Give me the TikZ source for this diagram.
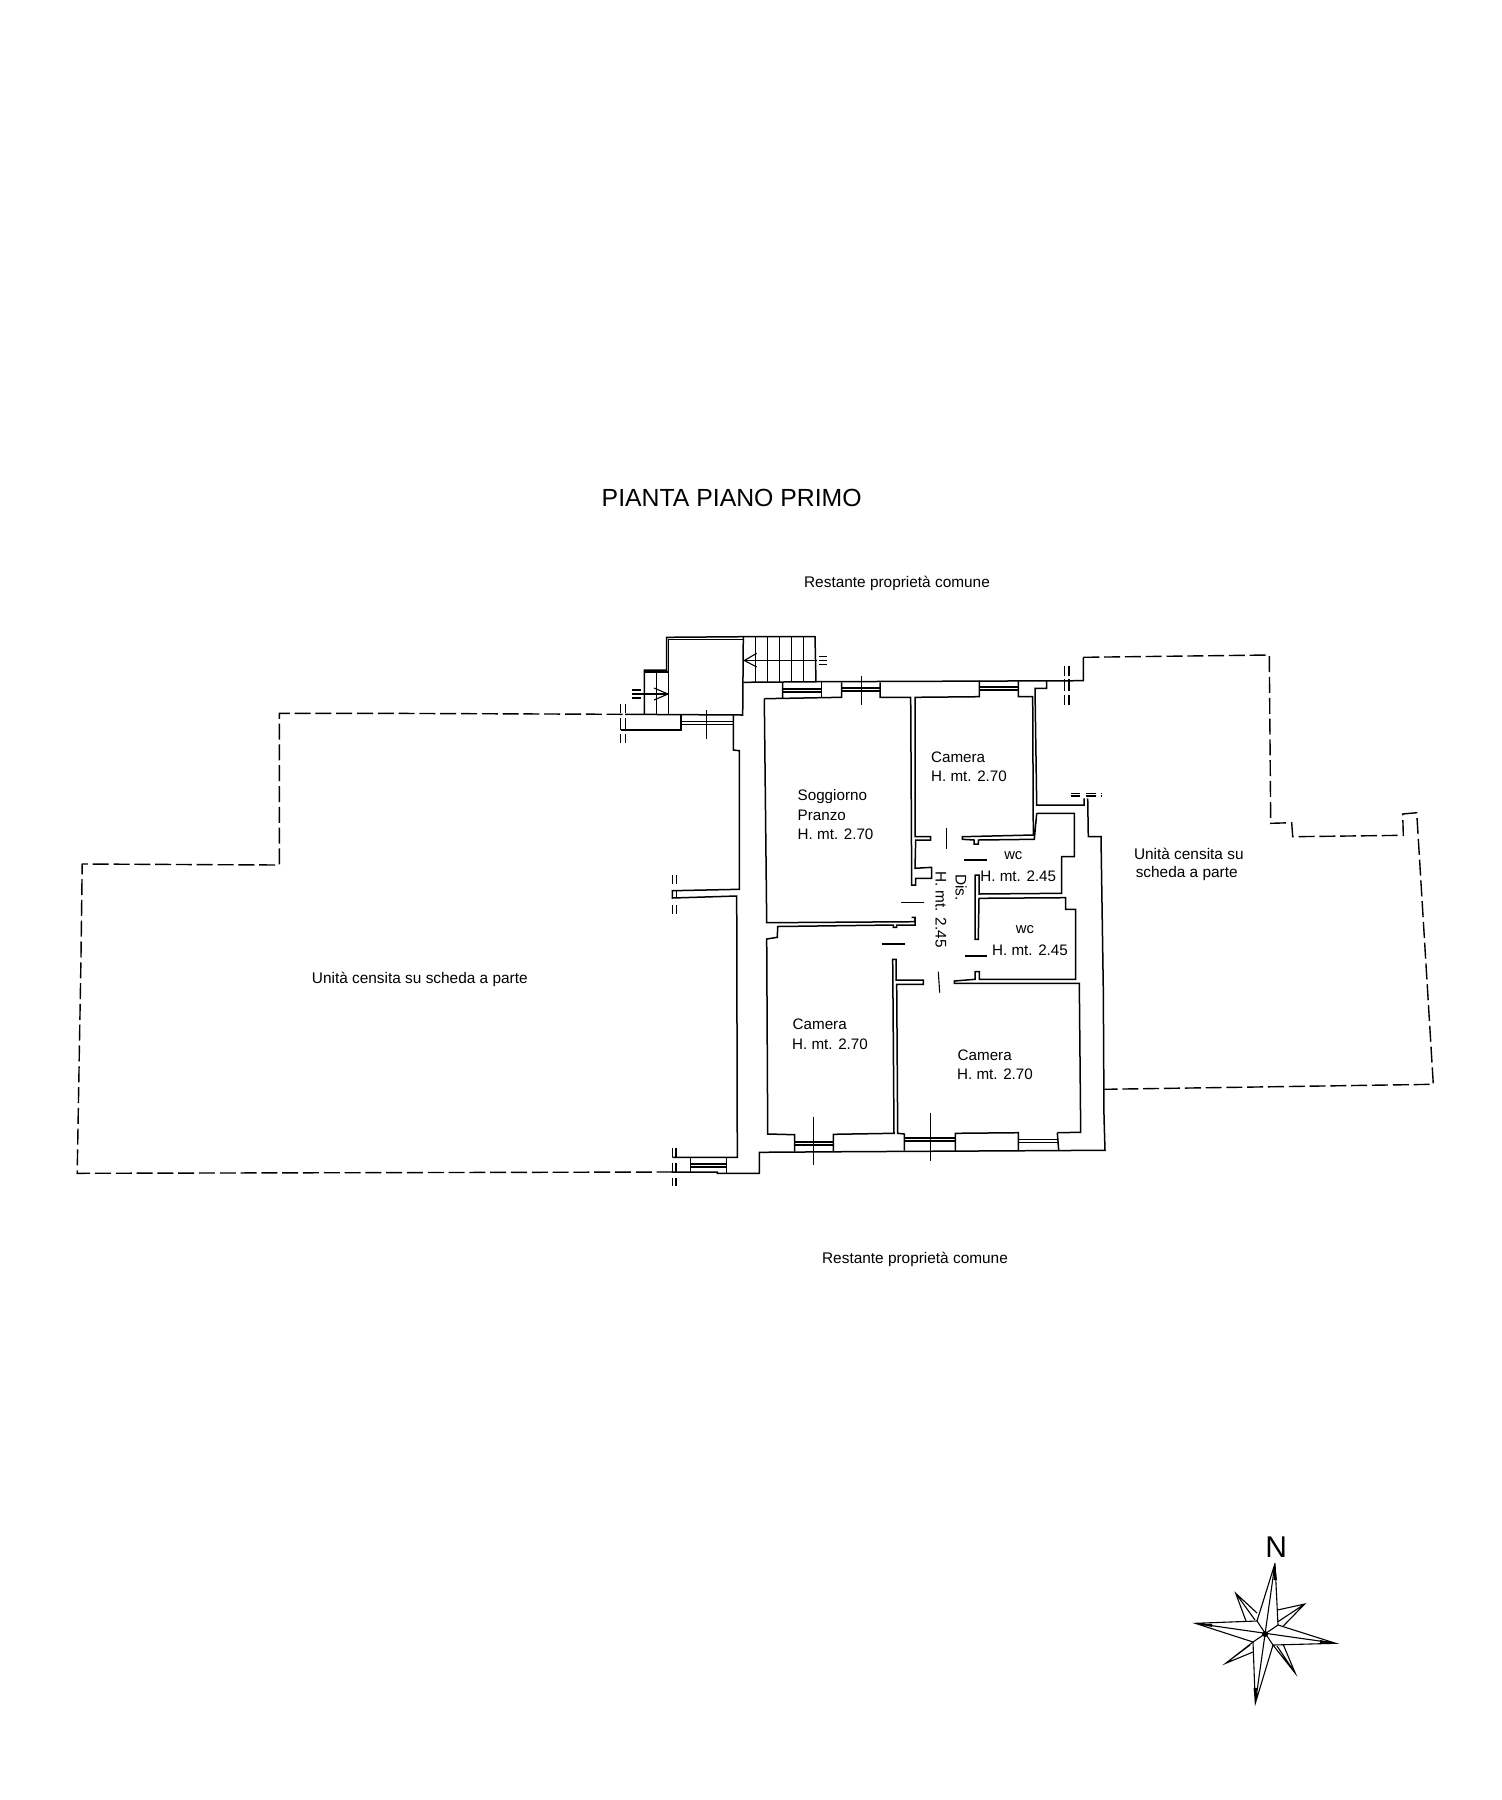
\documentclass[tikz,border=0pt]{standalone}
\usepackage{fontspec}
\setmainfont{Liberation Sans}
\tikzstyle{wall}=[draw, line width=0.75pt, line join=miter]
\tikzstyle{fine}=[draw, line width=0.55pt]
\tikzstyle{boundary}=[draw, line width=0.7pt, dash pattern=on 8pt off 2.4pt]
\tikzstyle{roomtxt}=[inner sep=0pt, anchor=west, font=\fontsize{7.6}{9}\selectfont]
\tikzstyle{areatxt}=[inner sep=0pt, font=\fontsize{7.7}{9}\selectfont]
\tikzstyle{smalltxt}=[inner sep=0pt, font=\fontsize{7.4}{8}\selectfont]

\begin{document}
\begin{tikzpicture}[x=0.5pt, y=-0.5pt]
\useasboundingbox (0,0) rectangle (1502,1800);

\node (title) at (731.7,497.5) [inner sep=0pt, font=\fontsize{12.4}{14}\selectfont] {PIANTA PIANO PRIMO};
\node (north) at (897,583) [areatxt] {Restante proprietà comune};
\node (south) at (915,1259) [areatxt] {Restante proprietà comune};
\node (westunit) at (419.8,979.5) [areatxt] {Unità censita su scheda a parte};
\node (eastunit1) at (1188.8,854) [areatxt] {Unità censita su};
\node (eastunit2) at (1186.7,874) [areatxt] {scheda a parte};

\node (lounge1) at (797.3,797) [roomtxt] {Soggiorno};
\node (lounge2) at (797.3,815.5) [roomtxt] {Pranzo};
\node (lounge3) at (797.3,834.5) [roomtxt] {H. mt. 2.70};
\node (bedne1) at (930.7,757) [roomtxt] {Camera};
\node (bedne2) at (930.7,776.5) [roomtxt] {H. mt. 2.70};
\node (bedsw1) at (792.3,1023.8) [roomtxt] {Camera};
\node (bedsw2) at (791.7,1043.8) [roomtxt] {H. mt. 2.70};
\node (bedse1) at (957.3,1054.8) [roomtxt] {Camera};
\node (bedse2) at (956.7,1074.5) [roomtxt] {H. mt. 2.70};
\node (wca1) at (1013.3,856) [smalltxt] {wc};
\node (wca2) at (980,876) [roomtxt] {H. mt. 2.45};
\node (wcb1) at (1025,930) [smalltxt] {wc};
\node (wcb2) at (991.7,949.8) [roomtxt] {H. mt. 2.45};
\node (dis1) at (961,887.7) [areatxt, rotate=-90] {Dis.};
\node (dis2) at (941,909.5) [areatxt, rotate=-90] {H. mt. 2.45};

% outdoor boundaries
\path [boundary] (622.6,714.3) -- (373.8,713.3) -- (279.3,713.3) -- (279.3,865) -- (82.2,864) -- (81,956.7) -- (77.2,1173.3) -- (672,1172);
\path [boundary] (1083.3,657.3) -- (1269.3,655) -- (1270.7,823.3) -- (1291.7,822.7) -- (1292.7,836.7) -- (1403.3,835.3) -- (1402.7,814) -- (1416.7,812.7) -- (1433.3,1084.3) -- (1104.3,1089.3);

% outer wall
\path [wall] (625,714.3) -- (742.7,715) -- (743.3,636.7);
\path [wall] (620.7,730) -- (681,730) -- (681,715);
\path [wall] (733.3,715) -- (733.3,750) -- (739.3,750.7) -- (739.3,889.3) -- (672.3,890.7) -- (672.3,898) -- (736.7,896) -- (737.3,1157.3) -- (672.3,1157.3);
\path [wall] (671.7,1172) -- (717.3,1172) -- (717.3,1173.3) -- (759.3,1173.3) -- (759.3,1152.3) -- (846.7,1151.7) -- (1105,1150.3) -- (1104,1116.7) -- (1103.3,990) -- (1101,836.7) -- (1088.3,836.7) -- (1087.7,798.3);
\path [wall] (743.3,682.3) -- (821.7,681.7) -- (1083.3,680.7) -- (1083.3,657.3);
\path [wall] (1036.7,813.3) -- (1074.3,813.3) -- (1074.3,856.7) -- (1061.7,856.7) -- (1061.7,893.3) -- (979,894) -- (979,875) -- (975,875) -- (975,939.3) -- (978.3,939.3) -- (979,898.3) -- (1065.7,897.7) -- (1065.7,909.3) -- (1075.7,909.3) -- (1075.7,979.3) -- (979.3,979.3) -- (979.3,971.7) -- (975,971.7) -- (975,979.3) -- (954.3,981) -- (954.3,983.3) -- (1079.3,983.3) -- (1080.7,1132.3) -- (1057.3,1132.7);
\path [wall] (1046.7,680.7) -- (1046.7,688.3) -- (1035,688.3) -- (1036.7,805) -- (1084,805) -- (1084,798.3);

% rooms
\path [wall] (782.7,682) -- (782.7,698) (764.3,698.7) -- (841.7,697.3) -- (841.7,682.3);
\path [wall] (821.7,681.7) -- (821.7,697.6);
\path [wall] (764.3,698.7) -- (766.7,922.7) -- (915,921.7) -- (915,917.3) -- (911.7,917.3);
\path [wall] (915,917.3) -- (915,925) -- (896.7,925) -- (896.7,927.3) -- (893.3,927.3) -- (893.3,925) -- (777.7,926.5) -- (777.3,937.3) -- (766.7,939) -- (767.7,1134) -- (794.7,1134.7) -- (794.7,1151.7);
\path [wall] (880,682.3) -- (880,697.3) -- (910.7,697.3) -- (911.7,885) -- (915.7,885) -- (915.7,878.3) -- (931.7,878.3) -- (931.7,867.3) -- (915,868.3) -- (915.7,840) -- (930.7,840) -- (930.7,836.7) -- (915,836.7) -- (915,697.3) -- (979.3,696.7) -- (979.3,680.7);
\path [wall] (1018.3,680.7) -- (1018.3,696.7) -- (1032.7,696.7) -- (1033.3,835) -- (962.3,836.7) -- (962.3,839.3) -- (974,840) -- (974,844) -- (978.3,844) -- (978.3,840) -- (1034.3,839.3) -- (1036.7,813.3);
\path [wall] (833.3,1151.7) -- (833.3,1134.3) -- (894,1133.3) -- (892.7,959.3) -- (896,959.3) -- (896,980) -- (923.3,980) -- (923.3,984.3) -- (896.7,984.3) -- (897.7,1133.3) -- (904.3,1134) -- (904.3,1150.7);
\path [wall] (955.3,1151) -- (955.3,1133.3) -- (1018.3,1132.7) -- (1018.3,1150.7);
\path [wall] (1058.7,1150.3) -- (1057.3,1132.7);

% windows
\path [fine] (733.3,721.3) -- (681,721.3) (733.3,724.5) -- (681,724.5);
\path [fine] (782.7,689) -- (821.7,689) (782.7,692) -- (821.7,692);
\path [fine] (841.7,688) -- (880,688) (841.7,691) -- (880,691);
\path [fine] (979.3,687) -- (1018.3,687) (979.3,690) -- (1018.3,690);
\path [fine] (794.7,1142) -- (833.3,1142) (794.7,1145) -- (833.3,1145);
\path [fine] (904.3,1138) -- (955.3,1138) (904.3,1141) -- (955.3,1141);
\path [fine] (1018.3,1139.5) -- (1058,1139.5) (1018.3,1142.5) -- (1058,1142.5);
\path [wall] (690.3,1157.3) -- (690.3,1172.7) (726.3,1157.3) -- (726.3,1172.7);
\path [fine] (690.3,1164) -- (726.3,1164) (690.3,1167) -- (726.3,1167);
\path [fine] (706.7,710) -- (706.7,739.3);
\path [fine] (861.7,676) -- (861.7,705);
\path [fine] (813.3,1116.7) -- (813.3,1165);
\path [fine] (930.3,1112.7) -- (930.3,1161);

% doors
\path [fine] (946.7,828.3) -- (946.7,849.3);
\path [fine] (964,860) -- (986.7,860);
\path [fine] (901,902.3) -- (924,902.3);
\path [fine] (881.7,944) -- (905,944);
\path [fine] (965,956) -- (987.3,956);
\path [fine] (938.3,971.7) -- (939.7,992.7);

% stairs
\path [wall] (644.3,714.3) -- (644.3,670) -- (666.7,670) -- (666.7,637.3) -- (743.3,636.7) -- (815,636.7) -- (816,681.7);
\path [fine] (668.3,714.3) -- (668.3,639.8) -- (743.3,639.8);
\path [fine] (644.3,672) -- (668.3,672);
\path [fine] (656.7,670) -- (656.7,714.3);
\foreach \sx in {755.3,767.7,779.3,791.7,803.3} {
  \path [fine] (\sx,636.7) -- (\sx,682);
}
\path [fine] (744.3,660.7) -- (816.7,660.7);
\path [fine] (756.7,653.3) -- (744.3,660.5) -- (756.7,667);
\path [fine] (633,694) -- (668,694);
\path [fine] (654,688) -- (668,694) -- (654,700);

% break marks
\path [fine] (632,690) -- (641,690) (632,694) -- (641,694) (632,698) -- (641,698);
\path [fine] (819,656.7) -- (827,656.7) (819,660.7) -- (827,660.7) (819,664.7) -- (827,664.7);
\foreach \bx in {620.7,625.3} {
  \path [fine] (\bx,704) -- (\bx,713) (\bx,718) -- (\bx,730) (\bx,734.3) -- (\bx,742.7);
}
\foreach \bx in {1064.3,1069} {
  \path [fine] (\bx,666) -- (\bx,676) (\bx,679.3) -- (\bx,690.7) (\bx,695) -- (\bx,705);
}
\foreach \bx in {672.3,676.7} {
  \path [fine] (\bx,875) -- (\bx,884.3) (\bx,890.7) -- (\bx,898.3) (\bx,905) -- (\bx,914);
}
\foreach \bx in {672.3,676} {
  \path [fine] (\bx,1147.7) -- (\bx,1156.7) (\bx,1162.7) -- (\bx,1172) (\bx,1178.3) -- (\bx,1186);
}
\foreach \by in {793.3,796} {
  \path [fine] (1070.7,\by) -- (1080,\by) (1086,\by) -- (1096,\by) (1100.7,\by) -- (1102,\by);
}

% compass
\node (needle) at (1276.3,1546.7) [inner sep=0pt, font=\fontsize{15}{17}\selectfont] {N};
\coordinate (cc) at (1265,1634);
\coordinate (tn) at (1275,1563.3);
\coordinate (ts) at (1255.3,1703.3);
\coordinate (tw) at (1195.3,1623.3);
\coordinate (te) at (1335.7,1643.3);
\coordinate (tne) at (1304.7,1604);
\coordinate (tnw) at (1235.7,1593.3);
\coordinate (tse) at (1295.3,1673.3);
\coordinate (tsw) at (1225.7,1663.3);
\coordinate (sne) at (1278,1625);
\coordinate (snw) at (1257,1621);
\coordinate (sse) at (1273,1645);
\coordinate (ssw) at (1253,1642);
\path [fine] (tn) -- (snw) -- (tw) -- (ssw) -- (ts) -- (sse) -- (te) -- (sne) -- (tn) -- (ts) (tw) -- (te) (snw) -- (sse) (ssw) -- (sne);
\path [fine] (1277.5,1610) -- (tne) -- (1283.3,1626) (tne) -- (1277.5,1622);
\path [fine] (1257,1613) -- (tnw) -- (1246,1621) (tnw) -- (1255,1620);
\path [fine] (1253,1642) -- (tsw) -- (1253,1652) (tsw) -- (1250,1645);
\path [fine] (1273,1645) -- (tse) -- (1283,1644) (tse) -- (1277,1646);
\fill (cc) circle (3);
\fill (tn) -- (1273.5,1580) -- (1277,1580) -- cycle;
\fill (ts) -- (1253.5,1688) -- (1257,1688) -- cycle;
\fill (tw) -- (1212,1624) -- (1212,1627) -- cycle;
\fill (te) -- (1320,1640) -- (1320,1643) -- cycle;
\end{tikzpicture}
\end{document}
